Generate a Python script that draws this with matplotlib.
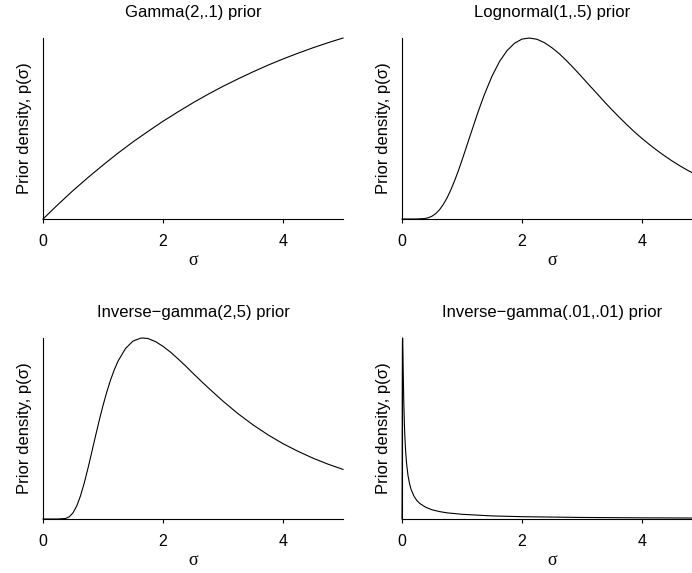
import matplotlib
matplotlib.use("Agg")
import matplotlib.pyplot as plt

plt.rcParams['font.family'] = ['Liberation Sans', 'DejaVu Sans']

# values (density scaled so the panel maximum is 1)
gamma_sigma = [0, 0.25, 0.5, 0.75, 1, 1.25, 1.5, 1.75, 2, 2.25, 2.5, 2.75, 3, 3.25,
               3.5, 3.75, 4, 4.25, 4.5, 4.75, 5]
gamma_dens = [0, 0.080, 0.157, 0.229, 0.298, 0.364, 0.426, 0.484, 0.540, 0.592, 0.642,
              0.689, 0.733, 0.774, 0.813, 0.850, 0.884, 0.916, 0.946, 0.974, 1.0]

lnorm_sigma = [0, 0.25, 0.375, 0.4375, 0.5, 0.5625, 0.625, 0.6875, 0.75, 0.8125,
               0.875, 0.9375, 1, 1.0625, 1.125, 1.1875, 1.25, 1.3125, 1.375, 1.5,
               1.625, 1.75, 1.875, 2, 2.12, 2.25, 2.375, 2.5, 2.625, 2.75, 2.875, 3,
               3.125, 3.25, 3.375, 3.5, 3.625, 3.75, 3.875, 4, 4.125, 4.25, 4.375,
               4.5, 4.625, 4.75, 4.875, 5]
lnorm_dens = [0, 0.0001, 0.0025, 0.0069, 0.0155, 0.030, 0.051, 0.080, 0.116, 0.160,
              0.210, 0.265, 0.325, 0.387, 0.450, 0.512, 0.574, 0.633, 0.689, 0.789,
              0.870, 0.930, 0.971, 0.994, 1.0, 0.993, 0.974, 0.946, 0.912, 0.872,
              0.829, 0.784, 0.738, 0.693, 0.647, 0.603, 0.561, 0.520, 0.481, 0.445,
              0.411, 0.379, 0.349, 0.321, 0.295, 0.271, 0.249, 0.228]

igam_sigma = [0, 0.25, 0.375, 0.4375, 0.5, 0.5625, 0.625, 0.6875, 0.75, 0.8125, 0.875,
              0.9375, 1, 1.0625, 1.125, 1.1875, 1.25, 1.375, 1.5, 1.625, 1.667, 1.75,
              1.875, 2, 2.125, 2.25, 2.375, 2.5, 2.625, 2.75, 3, 3.25, 3.5, 3.75, 4,
              4.25, 4.5, 4.75, 5]
igam_dens = [0, 0.0, 0.003, 0.012, 0.034, 0.072, 0.128, 0.199, 0.281, 0.369, 0.458,
             0.545, 0.627, 0.701, 0.767, 0.824, 0.872, 0.942, 0.983, 0.999, 1.0, 0.997,
             0.980, 0.954, 0.922, 0.885, 0.846, 0.805, 0.765, 0.726, 0.651, 0.582,
             0.520, 0.465, 0.416, 0.374, 0.336, 0.303, 0.274]

igam01_sigma = [0, 0.0025, 0.005, 0.0075, 0.01, 0.015, 0.02, 0.03, 0.04, 0.05, 0.06,
                0.075, 0.1, 0.125, 0.15, 0.2, 0.25, 0.3, 0.4, 0.5, 0.625, 0.75, 1,
                1.5, 2, 3, 4, 5]
igam01_dens = [0, 0.202, 0.741, 0.958, 1.0, 0.927, 0.819, 0.642, 0.522, 0.438, 0.377,
               0.311, 0.240, 0.196, 0.165, 0.126, 0.101, 0.085, 0.064, 0.051, 0.041,
               0.034, 0.026, 0.017, 0.0128, 0.0085, 0.0064, 0.0051]

titles = ["Gamma(2,.1) prior", "Lognormal(1,.5) prior",
          "Inverse\u2212gamma(2,5) prior", "Inverse\u2212gamma(.01,.01) prior"]
panels = [(gamma_sigma, gamma_dens), (lnorm_sigma, lnorm_dens),
          (igam_sigma, igam_dens), (igam01_sigma, igam01_dens)]
xticks = [0, 2, 4]

fig = plt.figure(figsize=(6.92, 5.73), dpi=100)
w, h = 300 / 692, 181 / 573
lefts = [43 / 692, 402 / 692]
bottoms = [1 - 219 / 573, 1 - 519 / 573]

for i, (title, (xs, ys)) in enumerate(zip(titles, panels)):
    ax = fig.add_axes([lefts[i % 2], bottoms[i // 2], w, h])
    ax.plot(xs, ys, color='black', lw=0.8, clip_on=False)
    ax.set_xlim(0, 5)
    ax.set_ylim(0, 1)
    for s in ['top', 'right']:
        ax.spines[s].set_visible(False)
    for s in ['left', 'bottom']:
        ax.spines[s].set_linewidth(0.8)
    ax.set_xticks(xticks)
    ax.set_yticks([])
    ax.tick_params(axis='x', direction='out', length=3, width=0.8,
                   pad=8, labelsize=11.5)
    ax.set_title(title, fontsize=12, pad=15)
    ax.set_xlabel("\u03c3", fontsize=13, family=['Liberation Serif', 'DejaVu Serif'],
                  labelpad=2)
    ax.set_ylabel("Prior density, p(\u03c3)", fontsize=12, labelpad=8)

fig.savefig("out.png", dpi=100)
